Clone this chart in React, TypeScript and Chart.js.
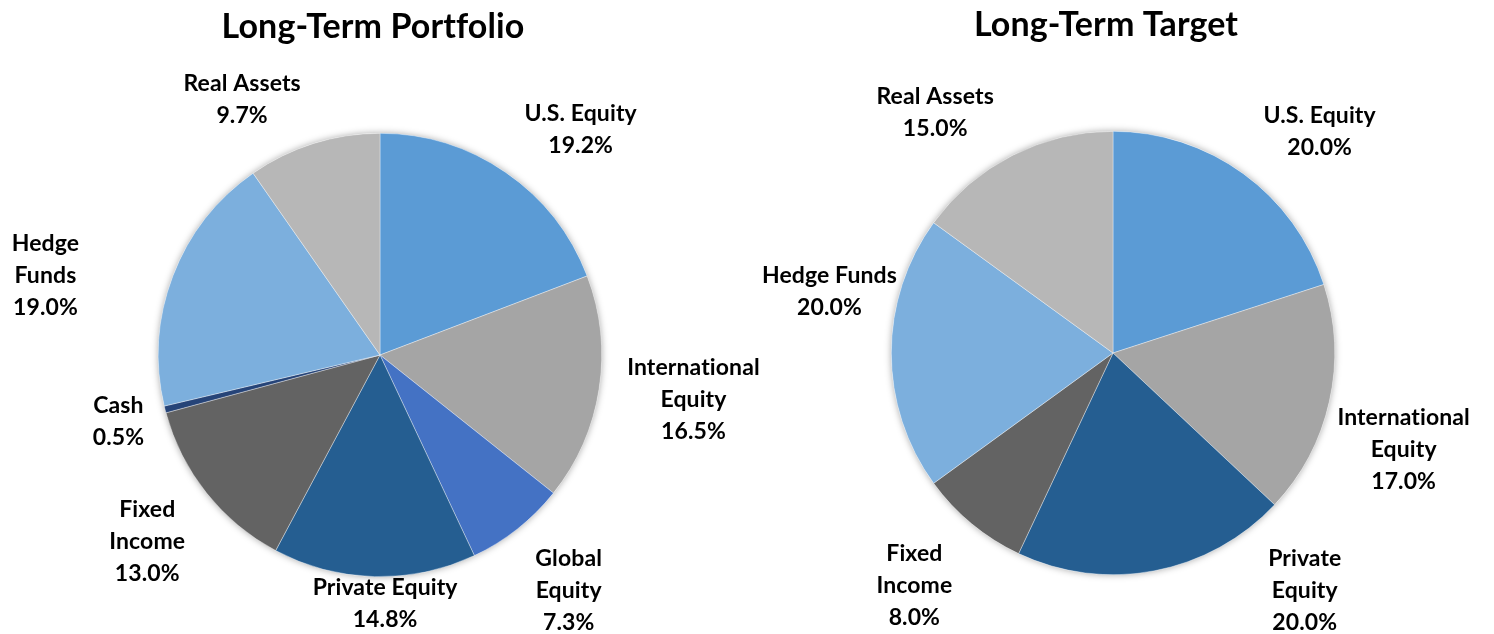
import { useEffect, useRef } from "react";
import { Chart, registerables } from "chart.js";

Chart.register(...registerables);

// ---- Data ----
const portfolioTitle = "Long-Term Portfolio";
const portfolioCategories = [
  "U.S. Equity",
  "International Equity",
  "Global Equity",
  "Private Equity",
  "Fixed Income",
  "Cash",
  "Hedge Funds",
  "Real Assets",
];
const portfolioValues = [19.2, 16.5, 7.3, 14.8, 13.0, 0.5, 19.0, 9.7];
const portfolioLabelLines = [
  ["U.S. Equity"],
  ["International", "Equity"],
  ["Global", "Equity"],
  ["Private Equity"],
  ["Fixed", "Income"],
  ["Cash"],
  ["Hedge", "Funds"],
  ["Real Assets"],
];

const targetTitle = "Long-Term Target";
const targetCategories = [
  "U.S. Equity",
  "International Equity",
  "Private Equity",
  "Fixed Income",
  "Hedge Funds",
  "Real Assets",
];
const targetValues = [20.0, 17.0, 20.0, 8.0, 20.0, 15.0];
const targetLabelLines = [
  ["U.S. Equity"],
  ["International", "Equity"],
  ["Private", "Equity"],
  ["Fixed", "Income"],
  ["Hedge Funds"],
  ["Real Assets"],
];

// ---- Styles / layout ----
const categoryColors: Record<string, string> = {
  "U.S. Equity": "#5B9BD5",
  "International Equity": "#A5A5A5",
  "Global Equity": "#4472C4",
  "Private Equity": "#255E91",
  "Fixed Income": "#636363",
  Cash: "#264478",
  "Hedge Funds": "#7CAFDD",
  "Real Assets": "#B7B7B7",
};

// label block centres, relative to pie centre, in units of the radius
const portfolioLabelOffsets = [
  [0.905, -1.018],
  [1.414, 0.198],
  [0.851, 1.059],
  [0.023, 1.117],
  [-1.05, 0.838],
  [-1.18, 0.297],
  [-1.509, -0.36],
  [-0.622, -1.153],
];
const targetLabelOffsets = [
  [0.932, -1.0],
  [1.311, 0.432],
  [0.865, 1.068],
  [-0.896, 1.045],
  [-1.279, -0.279],
  [-0.802, -1.086],
];

const FONT = "Lato, 'Open Sans', sans-serif";

const decorPlugin = {
  id: "pieDecor",
  beforeDatasetsDraw(chart: any) {
    const meta = chart.getDatasetMeta(0);
    const arc = meta.data[0];
    if (!arc) return;
    const { x, y, outerRadius } = arc.getProps(["x", "y", "outerRadius"], true);
    const ctx = chart.ctx;
    ctx.save();
    ctx.shadowColor = "rgba(0,0,0,0.35)";
    ctx.shadowBlur = 7;
    ctx.beginPath();
    ctx.arc(x, y, outerRadius, 0, Math.PI * 2);
    ctx.fillStyle = "#ffffff";
    ctx.fill();
    ctx.restore();
  },
  afterDatasetsDraw(chart: any, _args: any, opts: any) {
    const ctx = chart.ctx;
    const meta = chart.getDatasetMeta(0);
    const values = chart.data.datasets[0].data as number[];
    ctx.save();
    ctx.fillStyle = "#000";
    ctx.font = `bold ${opts.titleSize}px ${FONT}`;
    ctx.textAlign = "center";
    ctx.textBaseline = "alphabetic";
    try {
      (ctx as any).letterSpacing = "0.1px";
    } catch (e) {}
    ctx.fillText(opts.title, opts.titleX, opts.titleY);
    ctx.font = `bold ${opts.labelSize}px ${FONT}`;
    const lh = opts.lineHeight;
    meta.data.forEach((el: any, i: number) => {
      const { x, y, outerRadius } = el.getProps(["x", "y", "outerRadius"], true);
      const [dx, dy] = opts.offsets[i];
      const cx = x + dx * outerRadius;
      const cy = y + dy * outerRadius;
      const lines = [...opts.lines[i], values[i].toFixed(1) + "%"];
      const n = lines.length;
      lines.forEach((t: string, k: number) => {
        const by = cy - ((n - 1) * lh) / 2 + opts.capHalf + k * lh;
        ctx.fillText(t, cx, by);
      });
    });
    ctx.restore();
  },
};

function PieChart(props: {
  categories: string[];
  values: number[];
  lines: string[][];
  offsets: number[][];
  title: string;
  titleX: number;
  titleY: number;
  padding: { left: number; right: number; top: number; bottom: number };
  left: number;
  width: number;
}) {
  const ref = useRef<HTMLCanvasElement>(null);
  useEffect(() => {
    if (!ref.current) return;
    const chart = new Chart(ref.current, {
      type: "pie",
      data: {
        labels: props.categories,
        datasets: [
          {
            data: props.values,
            backgroundColor: props.categories.map((c) => categoryColors[c]),
            borderColor: "rgba(255,255,255,0.6)",
            borderWidth: 0.6,
          },
        ],
      },
      options: {
        responsive: false,
        animation: false,
        layout: { padding: props.padding },
        plugins: {
          legend: { display: false },
          tooltip: { enabled: false },
          title: { display: false },
          pieDecor: {
            title: props.title,
            titleX: props.titleX,
            titleY: props.titleY,
            titleSize: 34,
            labelSize: 23,
            lineHeight: 32,
            capHalf: 8,
            lines: props.lines,
            offsets: props.offsets,
          },
        } as any,
      },
      plugins: [decorPlugin],
    });
    return () => chart.destroy();
  }, []);
  return (
    <canvas
      ref={ref}
      width={props.width}
      height={634}
      style={{ position: "absolute", left: props.left, top: 0, width: props.width, height: 634 }}
    />
  );
}

export default function App() {
  return (
    <div
      style={{
        position: "fixed",
        left: 0,
        top: 0,
        width: 1494,
        height: 634,
        background: "#fff",
      }}
    >
      <PieChart
        categories={portfolioCategories}
        values={portfolioValues}
        lines={portfolioLabelLines}
        offsets={portfolioLabelOffsets}
        title={portfolioTitle}
        titleX={373}
        titleY={38}
        padding={{ left: 158, right: 198, top: 133, bottom: 57 }}
        left={0}
        width={800}
      />
      <PieChart
        categories={targetCategories}
        values={targetValues}
        lines={targetLabelLines}
        offsets={targetLabelOffsets}
        title={targetTitle}
        titleX={359}
        titleY={36}
        padding={{ left: 144, right: 159, top: 131, bottom: 59 }}
        left={747}
        width={747}
      />
    </div>
  );
}
